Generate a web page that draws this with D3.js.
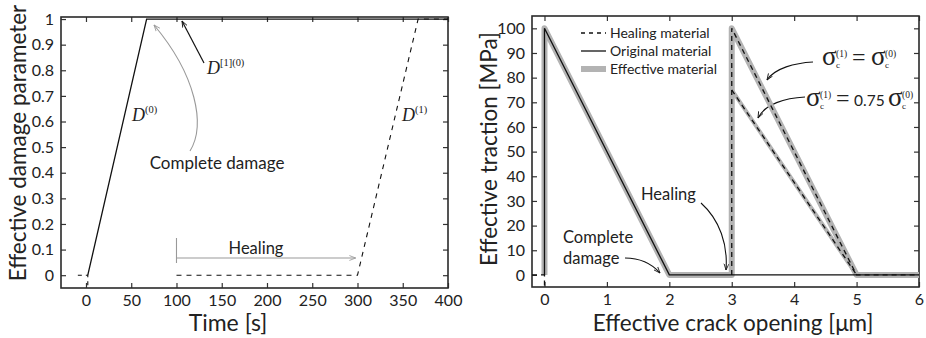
<!DOCTYPE html>
<html>
<head>
<meta charset="utf-8">
<script src="https://cdn.jsdelivr.net/npm/d3@7"></script>
<style>
  body { margin: 0; background: #fff; }
  svg text { font-family: Lato, "Open Sans", sans-serif; fill: #222; }
  .math { font-family: "Liberation Serif", "DejaVu Serif", serif; }
</style>
</head>
<body>
<div id="chart"></div>
<script>
// ---- left panel data: damage parameter vs time ----
var timeTicks = [0, 50, 100, 150, 200, 250, 300, 350, 400];
var damageTicks = [0, 0.1, 0.2, 0.3, 0.4, 0.5, 0.6, 0.7, 0.8, 0.9, 1];
var d0Time = [2, 67, 400];
var d0Value = [0, 1, 1];
var d0PreTime = [-9, 2, 2];
var d0PreValue = [0, 0, -0.05];
var d1Time = [100, 300, 367, 400];
var d1Value = [0, 0, 1, 1];

// ---- right panel data: traction vs crack opening ----
var openTicks = [0, 1, 2, 3, 4, 5, 6];
var tractionTicks = [0, 10, 20, 30, 40, 50, 60, 70, 80, 90, 100];
var origOpen = [0, 0, 2, 6];
var origTrac = [0, 100, 0, 0];
var healPreOpen = [-0.2, 0, 0];
var healPreTrac = [0, 0, -5];
var healOpen = [3, 3, 5, 6];
var healTrac = [0, 100, 0, 0];
var heal75Open = [3, 5];
var heal75Trac = [75, 0];
var effOpen = [0, 0, 2, 3, 3, 5, 6];
var effTrac = [0, 100, 0, 0, 100, 0, 0];
var eff75Open = [3, 5];
var eff75Trac = [75, 0];
var legendNames = ["Healing material", "Original material", "Effective material"];

var W = 926, H = 338;
var svg = d3.select("#chart").append("svg").attr("width", W).attr("height", H);

svg.append("defs").selectAll("marker")
  .data([["arrBlack", "#111"], ["arrGray", "#999"]])
  .enter().append("marker")
    .attr("id", function(d) { return d[0]; })
    .attr("viewBox", "0 0 10 10").attr("refX", 9).attr("refY", 5)
    .attr("markerWidth", 7).attr("markerHeight", 7).attr("orient", "auto")
    .attr("markerUnits", "userSpaceOnUse")
  .append("path").attr("d", "M0,1.5 L9,5 L0,8.5").attr("fill", "none")
    .attr("stroke", function(d) { return d[1]; }).attr("stroke-width", 1.2);

function zip(xs, ys) { return xs.map(function(x, i) { return [x, ys[i]]; }); }

function panel(box, xDom, yDom, xTicks, yTicks, yFmt) {
  var x = d3.scaleLinear().domain(xDom).range([box.l, box.r]);
  var y = d3.scaleLinear().domain(yDom).range([box.b, box.t]);
  var g = svg.append("g");
  var clip = "clip" + Math.round(box.l);
  svg.select("defs").append("clipPath").attr("id", clip)
    .append("rect").attr("x", box.l).attr("y", box.t).attr("width", box.r - box.l).attr("height", box.b - box.t);
  var axes = [
    [d3.axisBottom(x).tickValues(xTicks).tickFormat(d3.format("d")), "translate(0," + box.b + ")", true],
    [d3.axisTop(x).tickValues(xTicks), "translate(0," + box.t + ")", false],
    [d3.axisLeft(y).tickValues(yTicks).tickFormat(yFmt), "translate(" + box.l + ",0)", true],
    [d3.axisRight(y).tickValues(yTicks), "translate(" + box.r + ",0)", false]
  ];
  axes.forEach(function(a) {
    var ax = g.append("g").attr("transform", a[1])
      .call(a[0].tickSizeInner(-5).tickSizeOuter(0).tickPadding(a[2] ? 7 : 0));
    ax.select(".domain").remove();
    ax.selectAll("line").attr("stroke", "#333").attr("stroke-width", 1.2);
    ax.selectAll("text").style("font-size", "16px").attr("fill", "#222");
    if (!a[2]) ax.selectAll("text").remove();
  });
  g.append("rect").attr("x", box.l).attr("y", box.t).attr("width", box.r - box.l).attr("height", box.b - box.t)
    .attr("fill", "none").attr("stroke", "#2a2a2a").attr("stroke-width", 1.6);
  var plot = svg.append("g").attr("clip-path", "url(#" + clip + ")");
  var line = d3.line().x(function(d) { return x(d[0]); }).y(function(d) { return y(d[1]); });
  return { x: x, y: y, g: g, plot: plot, line: line };
}

// ---------------- left panel ----------------
var L = panel({ l: 61, r: 448, t: 17, b: 288 }, [-27.6, 400], [-0.05, 1.008], timeTicks, damageTicks,
  function(d) { return d === 0 || d === 1 ? d3.format("d")(d) : d3.format(".1f")(d); });

L.plot.append("path").attr("d", L.line(zip(d0PreTime, d0PreValue)))
  .attr("fill", "none").attr("stroke", "#111").attr("stroke-width", 1.1).attr("stroke-dasharray", "4,4");
L.plot.append("path").attr("d", L.line(zip(d1Time, d1Value)))
  .attr("fill", "none").attr("stroke", "#111").attr("stroke-width", 1.1).attr("stroke-dasharray", "5,5");
L.plot.append("path").attr("d", L.line(zip(d0Time, d0Value)))
  .attr("fill", "none").attr("stroke", "#111").attr("stroke-width", 1.3);

// annotations
function mathLabel(g, xPos, yPos, base, sup, size) {
  var t = g.append("text").attr("class", "math").attr("x", xPos).attr("y", yPos)
    .style("font-size", size + "px").attr("fill", "#222");
  t.append("tspan").attr("font-style", "italic").text(base);
  t.append("tspan").attr("dy", -size * 0.42).style("font-size", (size * 0.58) + "px").text(sup);
}
mathLabel(L.g, 132, 121, "D", "(0)", 18);
mathLabel(L.g, 402, 121, "D", "(1)", 18);
mathLabel(L.g, 207, 74, "D", "[1](0)", 18);

L.g.append("line").attr("x1", 204).attr("y1", 63).attr("x2", 182).attr("y2", 21)
  .attr("stroke", "#111").attr("stroke-width", 1.2).attr("marker-end", "url(#arrBlack)");
L.g.append("path").attr("d", "M190,151 C206,125 196,75 154,25")
  .attr("fill", "none").attr("stroke", "#999").attr("stroke-width", 1.1).attr("marker-end", "url(#arrGray)");
L.g.append("text").attr("x", 217).attr("y", 169).attr("text-anchor", "middle")
  .style("font-size", "17px").text("Complete damage");

L.g.append("line").attr("x1", L.x(100)).attr("x2", L.x(100)).attr("y1", 238).attr("y2", 263)
  .attr("stroke", "#999").attr("stroke-width", 1.1);
L.g.append("line").attr("x1", L.x(100)).attr("x2", L.x(298)).attr("y1", 258).attr("y2", 258)
  .attr("stroke", "#999").attr("stroke-width", 1.1).attr("marker-end", "url(#arrGray)");
L.g.append("text").attr("x", 256).attr("y", 254).attr("text-anchor", "middle")
  .style("font-size", "16.5px").text("Healing");

L.g.append("text").attr("x", 228).attr("y", 331).attr("text-anchor", "middle")
  .style("font-size", "23px").text("Time [s]");
L.g.append("text").attr("transform", "translate(26,143) rotate(-90)").attr("text-anchor", "middle")
  .style("font-size", "22.5px").text("Effective damage parameter");

// ---------------- right panel ----------------
var R = panel({ l: 532, r: 919, t: 16, b: 287 }, [-0.2, 6], [-4.9, 105], openTicks, tractionTicks, d3.format("d"));

var gray = "#b3b3b3";
R.plot.append("path").attr("d", R.line(zip(effOpen, effTrac)))
  .attr("fill", "none").attr("stroke", gray).attr("stroke-width", 6).attr("stroke-linejoin", "round");
R.plot.append("path").attr("d", R.line(zip(eff75Open, eff75Trac)))
  .attr("fill", "none").attr("stroke", gray).attr("stroke-width", 4).attr("stroke-linejoin", "round");
R.plot.append("path").attr("d", R.line(zip(origOpen, origTrac)))
  .attr("fill", "none").attr("stroke", "#111").attr("stroke-width", 1.3);
[[healPreOpen, healPreTrac], [healOpen, healTrac], [heal75Open, heal75Trac]].forEach(function(s) {
  R.plot.append("path").attr("d", R.line(zip(s[0], s[1])))
    .attr("fill", "none").attr("stroke", "#111").attr("stroke-width", 1.3).attr("stroke-dasharray", "5,4");
});

// legend
var leg = R.g.append("g");
legendNames.forEach(function(name, i) {
  var yy = 33 + i * 18;
  var ln = leg.append("line").attr("x1", 581).attr("x2", 606).attr("y1", yy).attr("y2", yy);
  if (i === 0) ln.attr("stroke", "#111").attr("stroke-width", 1.3).attr("stroke-dasharray", "4,4");
  if (i === 1) ln.attr("stroke", "#111").attr("stroke-width", 1.3);
  if (i === 2) ln.attr("stroke", gray).attr("stroke-width", 6);
  leg.append("text").attr("x", 610).attr("y", yy + 5).style("font-size", "14px").text(name);
});

// sigma annotations, pieces placed one by one
function sigma(g, xPos, yPos, sup) {
  g.append("text").attr("class", "math").attr("x", xPos).attr("y", yPos)
    .style("font-size", "27px").text("σ");
  g.append("text").attr("class", "math").attr("x", xPos + 14).attr("y", yPos + 3)
    .style("font-size", "9px").text("c");
  g.append("text").attr("class", "math").attr("x", xPos + 14).attr("y", yPos - 8)
    .style("font-size", "9.5px").text(sup);
}
function eq(g, xPos, yPos) {
  g.append("text").attr("class", "math").attr("x", xPos).attr("y", yPos)
    .style("font-size", "24px").text("=");
}
sigma(R.g, 822, 65, "(1)");
eq(R.g, 852, 65);
sigma(R.g, 871, 65, "(0)");

sigma(R.g, 806, 106, "(1)");
eq(R.g, 836, 106);
R.g.append("text").attr("x", 854).attr("y", 106).style("font-size", "15.5px").text("0.75");
sigma(R.g, 888, 106, "(0)");

R.g.append("path").attr("d", "M813,62 C795,63 775,68 767,80")
  .attr("fill", "none").attr("stroke", "#111").attr("stroke-width", 1.1).attr("marker-end", "url(#arrBlack)");
R.g.append("path").attr("d", "M805,97 C785,98 765,104 758,118")
  .attr("fill", "none").attr("stroke", "#111").attr("stroke-width", 1.1).attr("marker-end", "url(#arrBlack)");

R.g.append("text").attr("x", 641).attr("y", 200).style("font-size", "16.5px").text("Healing");
R.g.append("path").attr("d", "M701,203 C720,220 728,245 726,270")
  .attr("fill", "none").attr("stroke", "#111").attr("stroke-width", 1.1).attr("marker-end", "url(#arrBlack)");
R.g.append("text").attr("x", 563).attr("y", 243).style("font-size", "16.5px").text("Complete");
R.g.append("text").attr("x", 563).attr("y", 264).style("font-size", "16.5px").text("damage");
R.g.append("path").attr("d", "M625,258 C640,258 652,264 660,273")
  .attr("fill", "none").attr("stroke", "#111").attr("stroke-width", 1.1).attr("marker-end", "url(#arrBlack)");

R.g.append("text").attr("x", 733).attr("y", 331).attr("text-anchor", "middle")
  .style("font-size", "22.5px").text("Effective crack opening [μm]");
R.g.append("text").attr("transform", "translate(497,149) rotate(-90)").attr("text-anchor", "middle")
  .style("font-size", "22.5px").text("Effective traction [MPa]");
</script>
</body>
</html>
